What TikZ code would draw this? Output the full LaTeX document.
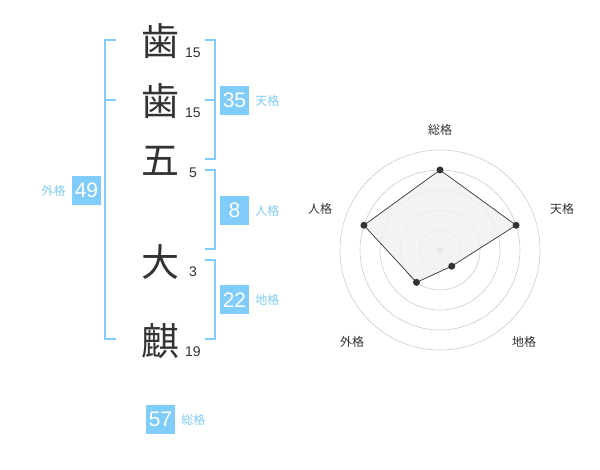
\documentclass[tikz,border=0pt]{standalone}
\usepackage{fontspec}
\setmainfont{Liberation Sans}
\newfontfamily\jpfont{Noto Sans CJK JP}
\usetikzlibrary{positioning}
\definecolor{kakublue}{RGB}{128,204,250}
\definecolor{inkgray}{RGB}{51,51,51}

\begin{document}
\begin{tikzpicture}[x=1pt, y=-1pt,
    every node/.style={inner sep=0pt},
    kanji/.style={text=inkgray, font=\jpfont\fontsize{38}{38}\selectfont},
    strokes/.style={text=inkgray, font=\fontsize{14}{14}\selectfont},
    kaku/.style={fill=kakublue, text=white, minimum size=29pt,
                 font=\fontsize{21}{21}\selectfont},
    kakulbl/.style={text=kakublue, font=\jpfont\fontsize{12}{12}\selectfont},
    brk/.style={draw=kakublue, line width=2pt},
    ring/.style={draw=black!20, line width=0.6pt},
    dot/.style={circle, fill=inkgray, minimum size=7pt},
    axislbl/.style={text=inkgray, font=\jpfont\fontsize{12}{12}\selectfont},
  ]
    \useasboundingbox (0,0) rectangle (600,470);

    % name characters and stroke counts
    \node[kanji]   (c1) at (160,41)  {歯};
    \node[kanji]   (c2) at (160,101) {歯};
    \node[kanji]   (c3) at (160,161) {五};
    \node[kanji]   (c4) at (160,262) {大};
    \node[kanji]   (c5) at (160,341) {麒};
    \node[strokes] (n1) at (193,53)  {15};
    \node[strokes] (n2) at (193,113) {15};
    \node[strokes] (n3) at (193,173) {5};
    \node[strokes] (n4) at (193,272) {3};
    \node[strokes] (n5) at (193,352) {19};

    % kaku boxes
    \node[kaku] (ten)  at (234.5,100.5) {35};
    \node[kaku] (jin)  at (234.5,210.5) {8};
    \node[kaku] (chi)  at (234.5,300)   {22};
    \node[kaku] (gai)  at (86.5,190.5)  {49};
    \node[kaku] (sou)  at (160.5,419.5) {57};
    \node[kakulbl, right=6pt of ten] (tenl) {天格};
    \node[kakulbl, right=6pt of jin] (jinl) {人格};
    \node[kakulbl, right=6pt of chi] (chil) {地格};
    \node[kakulbl, right=6pt of sou] (soul) {総格};
    \node[kakulbl, left=6pt of gai]  (gail) {外格};

    % brackets
    \draw[brk] (116,40) -- (105,40) -- (105,339) -- (116,339);
    \draw[brk] (105,100) -- (116,100);
    \draw[brk] (205,40) -- (215,40) -- (215,159) -- (205,159);
    \draw[brk] (215,100) -- (205,100);
    \draw[brk] (205,170) -- (215,170) -- (215,249) -- (205,249);
    \draw[brk] (205,260) -- (215,260) -- (215,339) -- (205,339);

    % radar chart
    \begin{scope}[shift={(440,250)}, y=1pt]
      \foreach \r in {20,40,60,80,100}
        \draw[ring] (0,0) circle (\r);
      \fill[black!20] (0,0) circle (3.5);

      \coordinate (psou) at (90:80);
      \coordinate (pten) at (18:80);
      \coordinate (pchi) at (-54:20);
      \coordinate (pgai) at (234:40);
      \coordinate (pjin) at (162:80);
      \filldraw[fill=black!6, fill opacity=0.8, draw=inkgray, line width=0.7pt]
        (psou) -- (pten) -- (pchi) -- (pgai) -- (pjin) -- cycle;
      \foreach \p in {psou,pten,pchi,pgai,pjin}
        \node[dot] at (\p) {};

      \node[axislbl] (asou) at (0,120)    {総格};
      \node[axislbl] (aten) at (122,41)   {天格};
      \node[axislbl] (achi) at (84,-92)   {地格};
      \node[axislbl] (agai) at (-88,-92)  {外格};
      \node[axislbl] (ajin) at (-120,41)  {人格};
    \end{scope}
\end{tikzpicture}
\end{document}
